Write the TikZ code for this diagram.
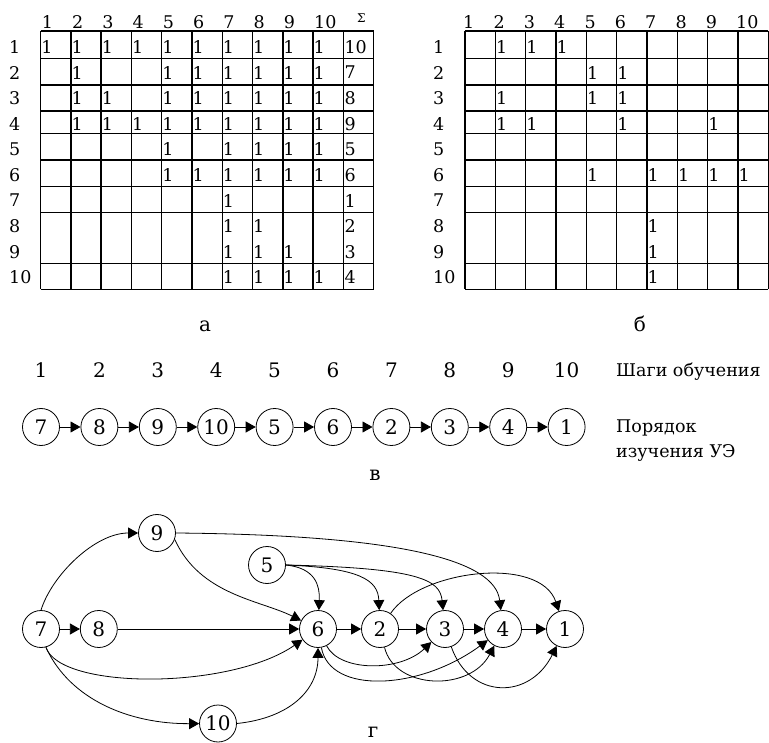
\documentclass[tikz,border=0pt]{standalone}
\usepackage{fontspec}
\setmainfont{DejaVu Serif}
\usetikzlibrary{arrows.meta, positioning}

\tikzset{
  ue/.style={draw, circle, line width=0.8pt, minimum size=37pt, inner sep=0pt, font=\fontsize{20}{20}\selectfont},
  cell/.style={anchor=west, inner sep=0pt, font=\fontsize{17.5}{17.5}\selectfont},
  caption/.style={inner sep=0pt, anchor=base, font=\fontsize{20}{20}\selectfont},
  link/.style={-{Triangle[length=10pt, width=11pt]}, line width=0.8pt},
  tabline/.style={line width=1.5pt},
}

\begin{document}
\begin{tikzpicture}[x=1pt, y=-1pt]
  \useasboundingbox (0,0) rectangle (769,743);

  % matrix a
  \foreach \i in {0,...,11}
    \draw[tabline] ({40.7+30.26*\i},31) -- ({40.7+30.26*\i},289.3);
  \foreach \y in {31,58.3,85,111,133.3,160,186.7,212.7,263.3,289.3}
    \draw[tabline] (40.7,\y) -- (373.6,\y);
  \foreach \i in {1,...,10} {
    \node[cell] (ha\i) at ({41.7+30.26*(\i-1)},22) {\i};
    \node[cell] (ra\i) at (9,{47+25.6*(\i-1)}) {\i};
  }
  \node[cell, font=\fontsize{12}{12}\selectfont] (sigma) at (357,18) {Σ};
  \foreach \r/\cols in {1/{1,2,3,4,5,6,7,8,9,10}, 2/{2,5,6,7,8,9,10}, 3/{2,3,5,6,7,8,9,10},
      4/{2,3,4,5,6,7,8,9,10}, 5/{5,7,8,9,10}, 6/{5,6,7,8,9,10}, 7/{7}, 8/{7,8}, 9/{7,8,9}, 10/{7,8,9,10}}
    \foreach \c in \cols
      \node[cell] (a-\r-\c) at ({41.2+30.26*(\c-1)},{47+25.6*(\r-1)}) {1};
  \foreach \r/\s in {1/10,2/7,3/8,4/9,5/5,6/6,7/1,8/2,9/3,10/4}
    \node[cell] (sa\r) at (344.3,{47+25.6*(\r-1)}) {\s};
  \node[caption] (capa) at (205,332) {а};

  % matrix b
  \foreach \i in {0,...,10}
    \draw[tabline] ({465+30.33*\i},31) -- ({465+30.33*\i},289.3);
  \foreach \y in {31,58.3,85,111,133.3,160,186.7,212.7,263.3,289.3}
    \draw[tabline] (465,\y) -- (768.3,\y);
  \foreach \i in {1,...,10} {
    \node[cell] (hb\i) at ({463+30.33*(\i-1)},22) {\i};
    \node[cell] (rb\i) at (433,{47+25.6*(\i-1)}) {\i};
  }
  \foreach \r/\cols in {1/{2,3,4}, 2/{5,6}, 3/{2,5,6}, 4/{2,3,6,9}, 6/{5,7,8,9,10}, 8/{7}, 9/{7}, 10/{7}}
    \foreach \c in \cols
      \node[cell] (b-\r-\c) at ({465.5+30.33*(\c-1)},{47+25.6*(\r-1)}) {1};
  \node[caption] (capb) at (640,332) {б};

  % order of study
  \node[ue] (s1) at (41,427) {7};
  \foreach \v [count=\i from 2] in {8,9,10,5,6,2,3,4,1} {
    \pgfmathtruncatemacro\j{\i-1}
    \node[ue, right=20.6pt of s\j] (s\i) {\v};
    \draw[link] (s\j) -- (s\i);
  }
  \coordinate (steprow) at (0,378);
  \foreach \i in {1,...,10}
    \node[caption] (st\i) at (s\i |- steprow) {\i};
  \node[cell, anchor=base west] (steps) at (616,377) {Шаги обучения};
  \node[cell, anchor=north west, align=left, font=\fontsize{17.5}{25}\selectfont] (order) at (616,420) {Порядок\\изучения УЭ};
  \node[caption] (capv) at (375,480) {в};

  % graph of learning elements
  \node[ue] (g7) at (41,629) {7};
  \node[ue, right=20pt of g7] (g8) {8};
  \node[ue] (g9) at (157,533) {9};
  \node[ue] (g5) at (267,565) {5};
  \node[ue] (g6) at (318,629) {6};
  \node[ue] (g10) at (218,723.5) {10};
  \node[ue] (g2) at (380,629) {2};
  \node[ue] (g3) at (445,629) {3};
  \node[ue] (g4) at (503,629) {4};
  \node[ue] (g1) at (565,629) {1};
  \node[caption] (capg) at (373,737) {г};

  \draw[link] (g7) -- (g8);
  \draw[link] (g8) -- (g6);
  \draw[link] (g6) -- (g2);
  \draw[link] (g2) -- (g3);
  \draw[link] (g3) -- (g4);
  \draw[link] (g4) -- (g1);
  \draw[link] (g7.90) .. controls (52,575) and (95,533) .. (g9);
  \draw[link] (g7.-75) .. controls (60,690) and (230,690) .. (g6);
  \draw[link] (g7.-75) .. controls (70,700) and (130,724) .. (g10);
  \draw[link] (g9.-20) .. controls (200,595) and (260,600) .. (g6);
  \draw[link] (g9.east) .. controls (400,535) and (495,560) .. (g4);
  \draw[link] (g5.east) .. controls (315,568) and (320,585) .. (g6);
  \draw[link] (g5.east) .. controls (360,568) and (378,580) .. (g2);
  \draw[link] (g5.east) .. controls (420,568) and (440,580) .. (g3);
  \draw[link] (g10.east) .. controls (290,718) and (318,690) .. (g6);
  \draw[link] (g6) .. controls (340,672) and (400,672) .. (g3);
  \draw[link] (g6) .. controls (330,695) and (420,690) .. (g4);
  \draw[link] (g2) .. controls (395,690) and (470,692) .. (g4);
  \draw[link] (g2) .. controls (420,570) and (540,555) .. (g1);
  \draw[link] (g3) .. controls (470,700) and (530,700) .. (g1);
\end{tikzpicture}
\end{document}
